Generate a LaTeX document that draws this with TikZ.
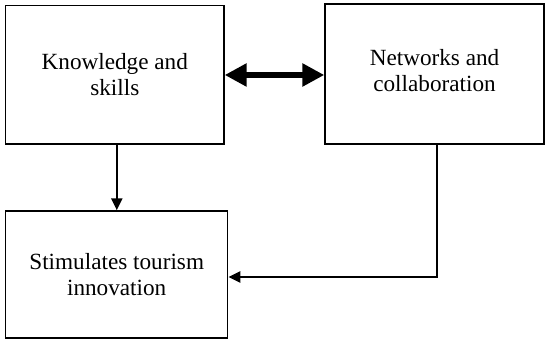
\documentclass[tikz,border=0pt]{standalone}
\usepackage{fontspec}
\setmainfont{Liberation Serif}
\usetikzlibrary{arrows.meta}

\tikzset{
  box/.style={draw, line width=0.7pt, align=center, inner sep=0pt,
    font=\fontsize{11.6}{13}\selectfont},
  flow/.style={line width=1.2pt, -{Triangle[length=6pt,width=5.5pt]}},
  both/.style={line width=3pt, {Triangle[length=11pt,width=11pt]}-{Triangle[length=11pt,width=11pt]}}
}

\begin{document}
\begin{tikzpicture}[x=0.5pt,y=-0.5pt]
  \useasboundingbox (0,0) rectangle (545,340);

  % Kaesten
  \node[box, minimum width=109.2pt, minimum height=69.2pt] (know) at (114.8,75) {Knowledge and\\skills};
  \node[box, minimum width=109.5pt, minimum height=70pt] (net) at (434.5,74) {Networks and\\collaboration\\[-9pt]};
  \node[box, minimum width=111pt, minimum height=63.5pt] (inno) at (116.7,274.5) {Stimulates tourism\\innovation};

  % Pfeile
  \draw[both] (know.east) -- (net.west |- know.east);
  \draw[flow] ([xshift=1pt]know.south) -- ([xshift=1pt]know.south |- inno.north);
  \draw[flow] ([xshift=1.25pt]net.south) |- ([yshift=-1.25pt]inno.east);
\end{tikzpicture}
\end{document}
